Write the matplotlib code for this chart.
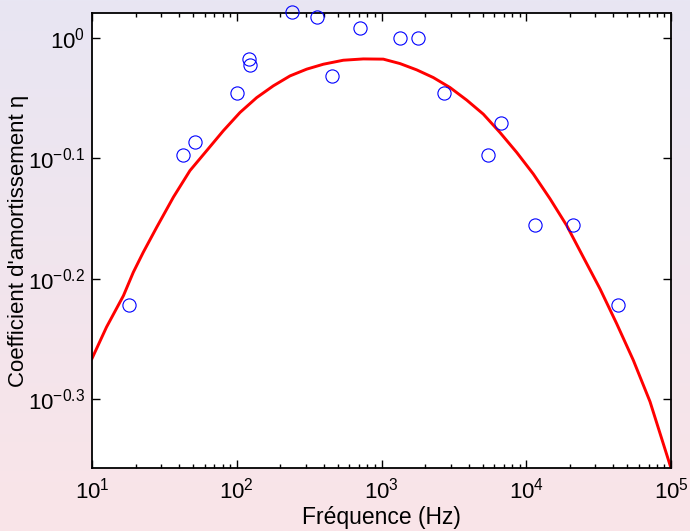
import matplotlib
matplotlib.use('Agg')
import matplotlib.pyplot as plt
from matplotlib.ticker import FixedLocator, NullLocator, LogLocator, FuncFormatter
import numpy as np

plt.rcParams['font.family'] = ['Liberation Sans', 'DejaVu Sans']
plt.rcParams['mathtext.default'] = 'regular'

# mesures
freq = [18.0, 42.6, 51.5, 100, 121.7, 123.4, 241, 356, 453, 710,
        1343, 1794, 2703, 5470, 6700, 11480, 21130, 43250]
eta = [0.60, 0.80, 0.82, 0.90, 0.96, 0.95, 1.05, 1.04, 0.93, 1.02,
       1.00, 1.00, 0.90, 0.80, 0.85, 0.70, 0.70, 0.60]

# courbe ajustee
fit_freq = [10, 12.6, 16.5, 19.3, 22.6, 28.0, 36.5, 47.5, 62.0, 80.8,
            105.3, 137.3, 178.9, 233.3, 304.2, 396.3, 544.6, 748.7, 1029, 1342,
            1751, 2280, 2973, 3878, 5050, 6587, 8590, 11190, 14590, 19030,
            24780, 32320, 42160, 54900, 71590, 100000]
fit_eta = [0.5418, 0.5754, 0.6111, 0.6390, 0.6638, 0.6964, 0.7376, 0.7760, 0.8062, 0.8375,
           0.8672, 0.8922, 0.9125, 0.9300, 0.9421, 0.9510, 0.9583, 0.9607, 0.9603, 0.9522,
           0.9408, 0.9271, 0.9096, 0.8880, 0.8645, 0.8346, 0.8035, 0.7710, 0.7354, 0.6987,
           0.6577, 0.6191, 0.5791, 0.5401, 0.4990, 0.4394]

yticks = [10**-0.3, 10**-0.2, 10**-0.1, 1.0]
ytick_exp = ['-0.3', '-0.2', '-0.1', '0']

fig = plt.figure(figsize=(6.9, 5.31), dpi=100)

# fond degrade
bg = fig.add_axes([0, 0, 1, 1], zorder=-10)
grad = np.linspace(0, 1, 256)[:, None]
top = np.array([232, 230, 243]) / 255.
bot = np.array([250, 228, 232]) / 255.
img = top[None, None, :] * (1 - grad[:, :, None]) + bot[None, None, :] * grad[:, :, None]
bg.imshow(img, aspect='auto', extent=[0, 1, 0, 1])
bg.axis('off')

ax = fig.add_axes([0.1333, 0.1186, 0.8392, 0.8569])
ax.set_facecolor('white')
ax.plot(fit_freq, fit_eta, color='red', lw=2.1)
ax.plot(freq, eta, 'o', mfc='none', mec='blue', ms=9.5, mew=0.8, clip_on=False, zorder=5)

ax.set_xscale('log')
ax.set_yscale('log')
ax.set_xlim(10, 1e5)
ax.set_ylim(10**-0.357, 10**0.0207)

ax.xaxis.set_major_locator(LogLocator(base=10))
ax.xaxis.set_major_formatter(FuncFormatter(lambda v, p: r'$10^{%d}$' % round(np.log10(v))))
ax.yaxis.set_major_locator(FixedLocator(yticks))
ax.yaxis.set_minor_locator(NullLocator())
ax.set_yticklabels([r'$10^{%s}$' % e for e in ytick_exp])

ax.tick_params(which='both', direction='in', top=True, right=True, labelsize=16)
ax.tick_params(axis='x', pad=7)
ax.tick_params(axis='y', pad=5)
ax.tick_params(which='major', length=6, width=1)
ax.tick_params(which='minor', length=3, width=1)
for s in ax.spines.values():
    s.set_linewidth(1.3)

ax.set_xlabel('Fréquence (Hz)', fontsize=16.5, labelpad=2)
ax.set_ylabel("Coefficient d'amortissement η", fontsize=16)
ax.yaxis.set_label_coords(-0.108, 0.5)

fig.savefig('out.png', dpi=100)
